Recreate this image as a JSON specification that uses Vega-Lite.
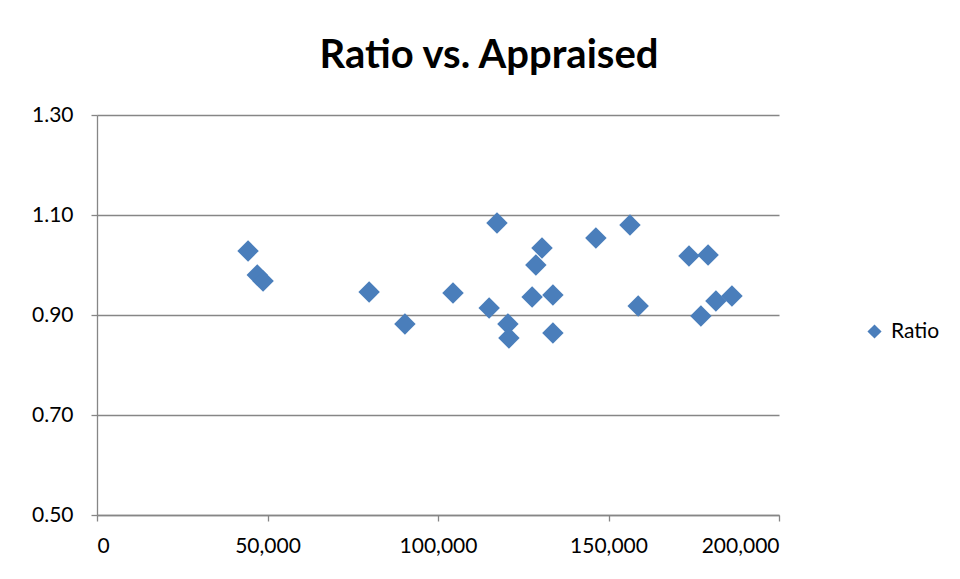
{
  "$schema": "https://vega.github.io/schema/vega-lite/v6.json",
  "width": 682,
  "height": 400,
  "autosize": "none",
  "padding": {"left": 97, "top": 115, "right": 181, "bottom": 64},
  "background": "white",
  "title": {
    "text": "Ratio vs. Appraised",
    "font": "Lato",
    "fontSize": 40,
    "fontWeight": "bold",
    "color": "#000000",
    "anchor": "middle",
    "dx": 51,
    "offset": 28
  },
  "data": {
    "values": [
      {"Appraised": 44300, "Ratio": 1.028},
      {"Appraised": 47000, "Ratio": 0.980},
      {"Appraised": 48700, "Ratio": 0.968},
      {"Appraised": 79800, "Ratio": 0.946},
      {"Appraised": 90300, "Ratio": 0.882},
      {"Appraised": 104400, "Ratio": 0.944},
      {"Appraised": 115000, "Ratio": 0.914},
      {"Appraised": 117300, "Ratio": 1.084},
      {"Appraised": 120500, "Ratio": 0.882},
      {"Appraised": 120800, "Ratio": 0.854},
      {"Appraised": 127600, "Ratio": 0.936},
      {"Appraised": 128700, "Ratio": 1.000},
      {"Appraised": 130500, "Ratio": 1.034},
      {"Appraised": 133700, "Ratio": 0.940},
      {"Appraised": 133700, "Ratio": 0.864},
      {"Appraised": 146300, "Ratio": 1.054},
      {"Appraised": 156300, "Ratio": 1.080},
      {"Appraised": 158700, "Ratio": 0.918},
      {"Appraised": 173600, "Ratio": 1.018},
      {"Appraised": 177100, "Ratio": 0.898},
      {"Appraised": 179200, "Ratio": 1.020},
      {"Appraised": 181500, "Ratio": 0.928},
      {"Appraised": 186200, "Ratio": 0.938}
    ]
  },
  "mark": {"type": "point", "shape": "diamond", "filled": true, "size": 460, "opacity": 1},
  "encoding": {
    "x": {
      "field": "Appraised",
      "type": "quantitative",
      "scale": {"domain": [0, 200000], "nice": false, "zero": false},
      "axis": {
        "title": null,
        "values": [0, 50000, 100000, 150000, 200000],
        "format": ",d",
        "grid": false,
        "labelPadding": 14,
        "tickSize": 6
      }
    },
    "y": {
      "field": "Ratio",
      "type": "quantitative",
      "scale": {"domain": [0.5, 1.3], "nice": false, "zero": false},
      "axis": {
        "title": null,
        "values": [0.5, 0.7, 0.9, 1.1, 1.3],
        "format": ".2f",
        "grid": true,
        "labelPadding": 18,
        "tickSize": 6
      }
    },
    "color": {
      "datum": "Ratio",
      "scale": {"range": ["#4A7EBB"]},
      "legend": {
        "title": null,
        "orient": "none",
        "legendX": 767,
        "legendY": 206,
        "symbolSize": 200,
        "symbolType": "diamond",
        "labelFont": "Lato",
        "labelFontSize": 21,
        "labelColor": "#000000",
        "labelOffset": 6
      }
    }
  },
  "config": {
    "view": {"stroke": null},
    "axis": {
      "labelFont": "Lato",
      "labelFontSize": 21,
      "labelColor": "#000000",
      "domainColor": "#868686",
      "tickColor": "#868686",
      "gridColor": "#868686",
      "gridWidth": 1.3,
      "domainWidth": 1.3,
      "tickWidth": 1.3
    }
  }
}
